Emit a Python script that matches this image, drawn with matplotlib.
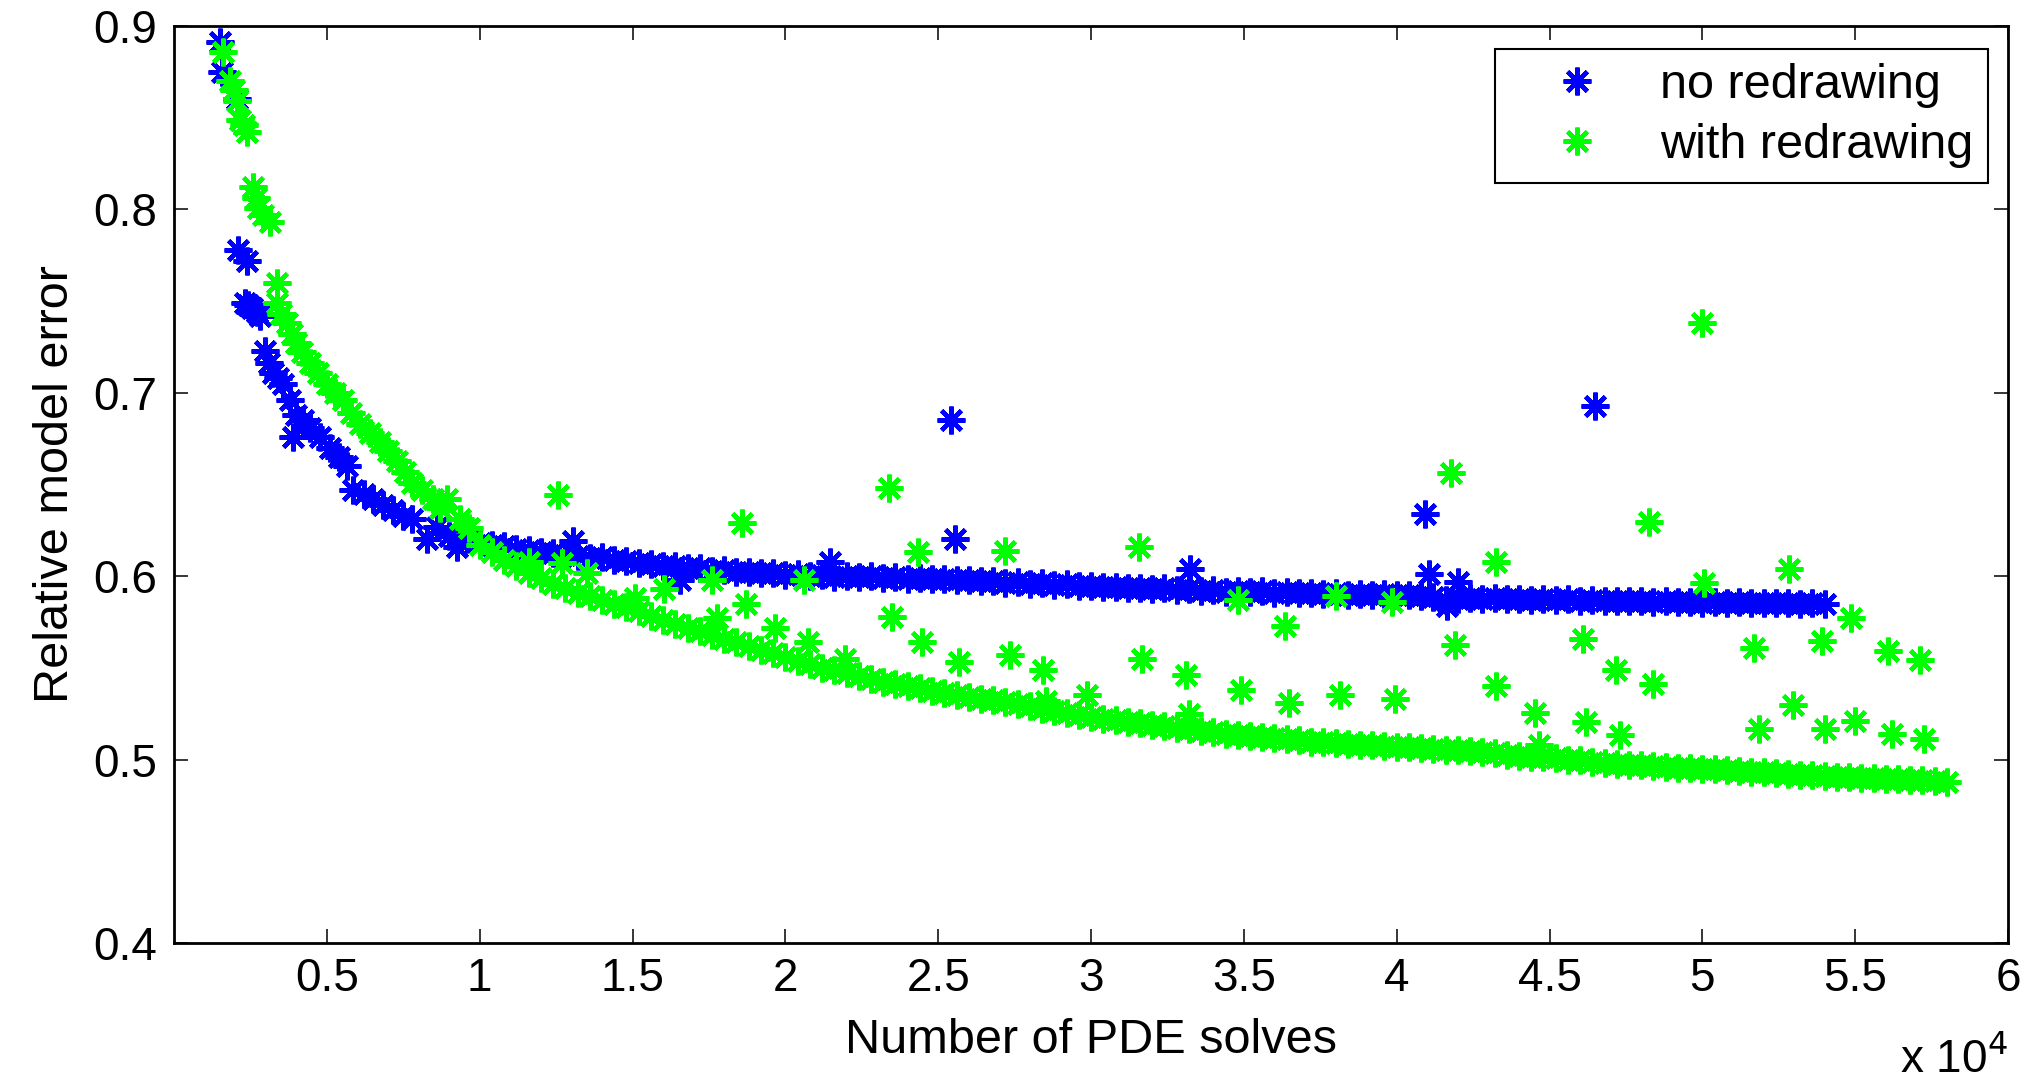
import numpy as np
import matplotlib
matplotlib.use('Agg')
import matplotlib.pyplot as plt
from matplotlib.ticker import FuncFormatter

# x in units of 1e4 PDE solves
blue_early_x = [0.150, 0.156, 0.205, 0.210, 0.238, 0.232, 0.243, 0.256, 0.270, 0.281, 0.298, 0.310,
                0.324, 0.340, 0.357, 0.379, 0.389, 0.400, 0.422, 0.445, 0.477, 0.510, 0.540, 0.565,
                0.585, 0.620, 0.651, 0.685, 0.716, 0.750, 0.780, 0.827, 0.860, 0.900, 0.925, 0.960]
blue_early_y = [0.891, 0.875, 0.860, 0.778, 0.772, 0.749, 0.748, 0.746, 0.744, 0.742, 0.723, 0.716,
                0.711, 0.708, 0.705, 0.696, 0.676, 0.688, 0.685, 0.681, 0.676, 0.670, 0.665, 0.660,
                0.647, 0.645, 0.642, 0.639, 0.636, 0.633, 0.631, 0.620, 0.627, 0.622, 0.616, 0.620]

# dense part, one point every 400 solves starting at 1e4
blue_dense_y = [0.6180, 0.6168, 0.6163, 0.6150, 0.6145, 0.6130, 0.6128, 0.6115, 0.6112, 0.6100,
                0.6102, 0.6088, 0.6085, 0.6072, 0.6068, 0.6055, 0.6058, 0.6045, 0.6042, 0.6030,
                0.6035, 0.6022, 0.6025, 0.6015, 0.6018, 0.6008, 0.6012, 0.6002, 0.6006, 0.5998,
                0.6003, 0.5995, 0.5999, 0.5990, 0.5994, 0.5986, 0.5990, 0.5982, 0.5986, 0.5978,
                0.5980, 0.5972, 0.5975, 0.5965, 0.5968, 0.5960, 0.5962, 0.5952, 0.5955, 0.5946,
                0.5948, 0.5940, 0.5943, 0.5935, 0.5938, 0.5930, 0.5933, 0.5925, 0.5928, 0.5920,
                0.5924, 0.5916, 0.5920, 0.5913, 0.5917, 0.5910, 0.5914, 0.5906, 0.5910, 0.5903,
                0.5907, 0.5900, 0.5904, 0.5898, 0.5902, 0.5896, 0.5899, 0.5892, 0.5885, 0.5872,
                0.5878, 0.5882, 0.5876, 0.5880, 0.5874, 0.5878, 0.5872, 0.5876, 0.5870, 0.5874,
                0.5866, 0.5870, 0.5864, 0.5867, 0.5862, 0.5865, 0.5860, 0.5863, 0.5858, 0.5861,
                0.5856, 0.5859, 0.5855, 0.5858, 0.5853, 0.5856, 0.5852, 0.5855, 0.5851, 0.5854,
                0.5850]

blue_out_x = [1.306, 1.655, 2.145, 2.543, 2.554, 3.325, 4.093, 4.105, 4.166, 4.200, 4.648]
blue_out_y = [0.619, 0.598, 0.608, 0.685, 0.620, 0.604, 0.634, 0.601, 0.584, 0.597, 0.693]

green_early_x = [0.160, 0.183, 0.195, 0.205, 0.216, 0.228, 0.238, 0.259, 0.267, 0.275, 0.290, 0.314,
                 0.337, 0.337, 0.350, 0.370, 0.385, 0.400, 0.420, 0.445, 0.470, 0.500, 0.525, 0.553,
                 0.580, 0.608, 0.640, 0.674, 0.700, 0.729, 0.755, 0.780, 0.810, 0.847, 0.870, 0.893,
                 0.935, 0.965]
green_early_y = [0.886, 0.870, 0.865, 0.859, 0.849, 0.846, 0.842, 0.812, 0.806, 0.801, 0.797, 0.793,
                 0.760, 0.749, 0.743, 0.738, 0.732, 0.727, 0.722, 0.716, 0.711, 0.705, 0.700, 0.696,
                 0.689, 0.683, 0.678, 0.673, 0.668, 0.663, 0.657, 0.651, 0.647, 0.642, 0.637, 0.642,
                 0.631, 0.626]

green_dense_y = [0.6170, 0.6130, 0.6090, 0.6055, 0.6020, 0.5990, 0.5960, 0.5935, 0.5910, 0.5890,
                 0.5870, 0.5850, 0.5830, 0.5810, 0.5785, 0.5760, 0.5740, 0.5720, 0.5700, 0.5680,
                 0.5660, 0.5640, 0.5620, 0.5600, 0.5580, 0.5560, 0.5540, 0.5520, 0.5502, 0.5486,
                 0.5470, 0.5454, 0.5438, 0.5424, 0.5412, 0.5400, 0.5388, 0.5376, 0.5364, 0.5352,
                 0.5340, 0.5332, 0.5324, 0.5314, 0.5302, 0.5290, 0.5278, 0.5266, 0.5254, 0.5242,
                 0.5230, 0.5222, 0.5214, 0.5206, 0.5198, 0.5190, 0.5182, 0.5174, 0.5166, 0.5158,
                 0.5150, 0.5142, 0.5134, 0.5126, 0.5124, 0.5120, 0.5112, 0.5104, 0.5096, 0.5094,
                 0.5090, 0.5086, 0.5082, 0.5078, 0.5074, 0.5070, 0.5066, 0.5062, 0.5058, 0.5054,
                 0.5050, 0.5046, 0.5042, 0.5034, 0.5026, 0.5020, 0.5016, 0.5012, 0.5006, 0.5000,
                 0.4995, 0.4989, 0.4983, 0.4978, 0.4973, 0.4968, 0.4964, 0.4960, 0.4956, 0.4953,
                 0.4950, 0.4946, 0.4942, 0.4938, 0.4934, 0.4930, 0.4926, 0.4922, 0.4918, 0.4914,
                 0.4910, 0.4907, 0.4904, 0.4901, 0.4898, 0.4895, 0.4892, 0.4889, 0.4886, 0.4883,
                 0.4880]

green_out_x = [1.162, 1.257, 1.268, 1.352, 1.508, 1.604, 1.760, 1.775, 1.858, 1.870, 1.965, 2.061,
               2.074, 2.194, 2.338, 2.350, 2.434, 2.447, 2.567, 2.720, 2.734, 2.843, 2.854, 2.987,
               3.157, 3.168, 3.311, 3.322, 3.480, 3.492, 3.636, 3.647, 3.800, 3.815, 3.985, 3.996,
               4.176, 4.190, 4.325, 4.325, 4.453, 4.466, 4.610, 4.620, 4.717, 4.729, 4.826, 4.837,
               5.000, 5.004, 5.170, 5.185, 5.283, 5.295, 5.390, 5.400, 5.486, 5.500, 5.607, 5.620,
               5.713, 5.725]
green_out_y = [0.608, 0.644, 0.607, 0.602, 0.588, 0.593, 0.598, 0.577, 0.629, 0.585, 0.572, 0.598,
               0.564, 0.555, 0.648, 0.578, 0.613, 0.564, 0.553, 0.614, 0.557, 0.549, 0.532, 0.535,
               0.616, 0.555, 0.546, 0.525, 0.587, 0.538, 0.573, 0.531, 0.589, 0.535, 0.586, 0.533,
               0.656, 0.5625, 0.608, 0.540, 0.5255, 0.508, 0.5655, 0.5205, 0.549, 0.5136, 0.6295, 0.541,
               0.738, 0.5964, 0.561, 0.5164, 0.604, 0.5296, 0.5645, 0.5164, 0.577, 0.521, 0.559, 0.5142,
               0.5545, 0.511]

blue_x = np.concatenate([blue_early_x, 1.0 + 0.04 * np.arange(len(blue_dense_y)), blue_out_x]) * 1e4
blue_y = np.concatenate([blue_early_y, blue_dense_y, blue_out_y])
green_x = np.concatenate([green_early_x, 1.0 + 0.04 * np.arange(len(green_dense_y)), green_out_x]) * 1e4
green_y = np.concatenate([green_early_y, green_dense_y, green_out_y])

plt.rcParams['font.family'] = ['Liberation Sans', 'DejaVu Sans']

fig = plt.figure(figsize=(20.31, 10.83), dpi=100)
ax = fig.add_axes([0.0857, 0.1293, 0.9030, 0.8467])

star = (8, 2, 0)
ax.plot(blue_x, blue_y, linestyle='none', marker=star, markersize=20, markeredgewidth=3.2,
        color=(0, 0, 1), label='no redrawing')
ax.plot(green_x, green_y, linestyle='none', marker=star, markersize=20, markeredgewidth=3.2,
        color=(0, 1, 0), label='with redrawing')

ax.set_xlim(0, 6e4)
ax.set_ylim(0.4, 0.9)
ax.set_xticks(np.arange(5000, 60001, 5000))
ax.set_yticks([0.4, 0.5, 0.6, 0.7, 0.8, 0.9])
ax.xaxis.set_major_formatter(FuncFormatter(lambda v, p: '%g' % (v / 1e4)))
ax.yaxis.set_major_formatter(FuncFormatter(lambda v, p: '%.1f' % v))
ax.tick_params(direction='in', length=10, width=1.1, labelsize=33, top=True, right=True)
ax.tick_params(axis='x', pad=10)
ax.tick_params(axis='y', pad=12)
for s in ax.spines.values():
    s.set_linewidth(2.0)

ax.set_xlabel('Number of PDE solves', fontsize=35, labelpad=12)
ax.set_ylabel('Relative model error', fontsize=35, labelpad=11)
fig.text(0.9887, 0.0, r'x 10$^{4}$', fontsize=33, ha='right', va='bottom')

leg = ax.legend(loc='upper right', bbox_to_anchor=(0.989, 0.975), borderaxespad=0, fontsize=35,
                numpoints=1, handlelength=2.8, handletextpad=0.3, borderpad=0.3, labelspacing=0.3,
                fancybox=False, framealpha=1, edgecolor='black')
leg.get_frame().set_linewidth(1.5)

plt.savefig('out.png', dpi=100)
